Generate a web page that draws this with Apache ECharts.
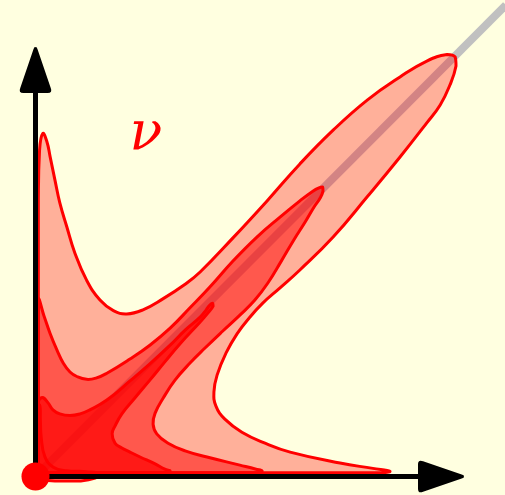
<!DOCTYPE html>
<html>
<head>
<meta charset="utf-8">
<script src="https://cdn.jsdelivr.net/npm/echarts@6/dist/echarts.min.js"></script>
<style>
  html, body { margin: 0; padding: 0; background: #ffffe0; }
  #chart { width: 505px; height: 495px; }
</style>
</head>
<body>
<div id="chart"></div>
<script>
// Level sets of the density, outermost first, as [x, y] outlines.
const outerLevel = [
  [0.07,0.09],[0.07,4.34],[0.07,6.80],[0.10,8.03],[0.18,8.44],[0.28,8.24],[0.36,7.87],
  [0.48,7.29],[0.60,6.73],[0.77,6.15],[0.97,5.50],[1.26,4.83],[1.59,4.34],[1.92,4.08],
  [2.25,4.00],[2.65,4.10],[3.14,4.37],[3.69,4.73],[4.06,5.03],[4.87,5.87],[5.71,6.78],
  [6.52,7.69],[7.34,8.52],[8.18,9.26],[8.99,9.83],[9.65,10.22],[10.15,10.38],[10.35,10.32],
  [10.37,10.10],[10.22,9.63],[9.98,9.14],[9.65,8.70],[8.99,7.86],[8.18,6.88],[7.34,5.89],
  [6.52,5.08],[6.03,4.64],[5.61,4.27],[5.27,3.90],[4.97,3.51],[4.70,3.04],[4.48,2.50],
  [4.40,2.08],[4.45,1.73],[4.67,1.41],[5.09,1.09],[5.66,0.82],[6.28,0.60],[7.51,0.33],
  [8.32,0.20],[8.74,0.13],[8.50,0.09],[6.52,0.09]
];
const middleLevel = [
  [0.07,0.09],[0.07,4.34],[0.21,3.95],[0.36,3.52],[0.53,3.11],[0.69,2.78],[0.85,2.57],
  [1.02,2.46],[1.26,2.39],[1.49,2.42],[1.76,2.54],[2.33,2.89],[2.82,3.23],[3.32,3.65],
  [3.81,4.15],[4.30,4.66],[4.87,5.30],[5.46,5.89],[6.03,6.38],[6.52,6.78],[6.84,7.02],
  [6.99,7.10],[7.08,7.12],[7.09,7.02],[7.02,6.85],[6.87,6.63],[6.65,6.26],[6.37,5.82],
  [6.05,5.28],[5.73,4.76],[5.41,4.34],[5.04,3.97],[4.62,3.58],[4.18,3.16],[3.81,2.79],
  [3.44,2.37],[3.15,1.93],[2.95,1.56],[2.90,1.29],[2.99,1.05],[3.27,0.82],[3.69,0.63],
  [4.23,0.48],[5.04,0.28],[5.44,0.18],[5.59,0.135],[5.41,0.09],[4.06,0.09]
];
const innerLevel = [
  [0.07,0.09],[0.07,1.83],[0.12,1.92],[0.19,1.94],[0.31,1.81],[0.43,1.64],[0.60,1.54],
  [0.85,1.50],[1.10,1.54],[1.34,1.64],[1.76,1.88],[2.33,2.35],[2.82,2.77],[3.32,3.23],
  [3.69,3.60],[4.06,3.92],[4.21,4.10],[4.30,4.22],[4.37,4.26],[4.38,4.19],[4.25,4.02],
  [4.06,3.80],[3.56,3.26],[3.19,2.82],[2.82,2.37],[2.45,1.93],[2.13,1.54],[1.96,1.24],
  [1.89,1.05],[1.96,0.82],[2.13,0.70],[2.33,0.60],[2.58,0.48],[2.95,0.31],[3.19,0.18],
  [3.32,0.135],[3.17,0.09],[2.08,0.09]
];
const coreLevel = [
  [0.01,1.64],[0.10,1.76],[0.12,1.39],[0.14,0.97],[0.23,0.49],[0.44,0.23],[0.77,0.14],
  [1.26,0.12],[1.59,0.07],[1.47,-0.04],[1.10,-0.11],[0.48,-0.11],[0.11,-0.06],[0.01,0.16]
];
const levelOpacity = [0.31, 0.5, 0.7, 0.3];

// Identity diagonal y = x and the point mass at the origin.
const diagonal = [[0, 0], [11.6, 11.6]];
const originPoint = [[0, 0]];

const AXIS_MAX = 10;
const ARROW = 'path://M16,1 Q17,0 18,3 L31,41 Q33,46 28,46 L4,46 Q-1,46 1,41 L14,3 Q15,0 16,1 Z';

function levelSeries(points, alpha, z) {
  return {
    type: 'custom',
    coordinateSystem: 'cartesian2d',
    z: z,
    silent: true,
    data: points,
    renderItem: function (params, api) {
      if (params.dataIndex !== 0) return null;
      const pts = points.map(p => api.coord(p));
      const xs = pts.map(p => p[0]);
      const ys = pts.map(p => p[1]);
      const lo = [Math.min.apply(null, xs), Math.min.apply(null, ys)];
      const hi = [Math.max.apply(null, xs), Math.max.apply(null, ys)];
      return {
        type: 'polygon',
        shape: { points: pts, smooth: 0.45, smoothConstraint: [lo, hi] },
        style: {
          fill: 'rgba(255,0,0,' + alpha + ')',
          stroke: '#ff0000',
          lineWidth: 3,
          lineJoin: 'round'
        }
      };
    }
  };
}

const axisCommon = {
  type: 'value',
  min: 0,
  max: AXIS_MAX,
  z: 3,
  axisLine: {
    show: true,
    symbol: ['none', ARROW],
    symbolSize: [32, 46],
    lineStyle: { color: '#000000', width: 5 }
  },
  axisTick: { show: false },
  axisLabel: { show: false },
  splitLine: { show: false }
};

const chart = echarts.init(document.getElementById('chart'), null, { renderer: 'canvas' });
chart.setOption({
  backgroundColor: '#ffffe0',
  animation: false,
  grid: { left: 35.5, right: 64, top: 70, bottom: 18.5, containLabel: false },
  xAxis: Object.assign({}, axisCommon),
  yAxis: Object.assign({}, axisCommon),
  graphic: [{
    type: 'text',
    x: 146,
    y: 135,
    z: 10,
    style: {
      text: 'ν',
      font: 'italic 54px "DejaVu Serif"',
      fill: '#ff0000',
      align: 'center',
      verticalAlign: 'middle'
    }
  }],
  series: [
    {
      type: 'custom',
      coordinateSystem: 'cartesian2d',
      z: 1,
      silent: true,
      data: diagonal,
      renderItem: function (params, api) {
        if (params.dataIndex !== 0) return null;
        return {
          type: 'polyline',
          shape: { points: diagonal.map(p => api.coord(p)) },
          style: { stroke: '#c0c0c0', lineWidth: 8, fill: null, lineCap: 'butt' }
        };
      }
    },
    levelSeries(outerLevel, levelOpacity[0], 2),
    levelSeries(middleLevel, levelOpacity[1], 2),
    levelSeries(innerLevel, levelOpacity[2], 2),
    levelSeries(coreLevel, levelOpacity[3], 2),
    {
      type: 'scatter',
      data: originPoint,
      z: 5,
      clip: false,
      silent: true,
      symbol: 'circle',
      symbolSize: 28,
      itemStyle: { color: '#ff0000', opacity: 1 }
    }
  ]
});
</script>
</body>
</html>
